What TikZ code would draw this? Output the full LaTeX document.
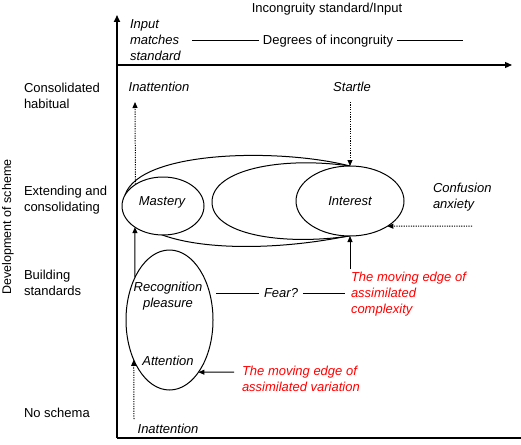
\documentclass[tikz,border=0pt]{standalone}
\usepackage{fontspec}
\setmainfont{Liberation Sans}
\usetikzlibrary{shapes.geometric,arrows.meta}
\begin{document}
\begin{tikzpicture}[x=1pt,y=-1pt,
  every node/.style={font=\fontsize{13}{16}\selectfont, inner sep=0pt, outer sep=0pt},
  lbl/.style={anchor=west, align=left},
  it/.style={font=\fontsize{13}{16}\selectfont\itshape},
  redtxt/.style={text=red},
  oval/.style={ellipse, draw, line width=1pt, fill=white},
  conn/.style={line width=1pt},
  tip/.style={-{Triangle[length=6pt,width=5pt]}},
  dots/.style={dash pattern=on 1.2pt off 1.2pt},
  curve/.style={line width=1pt}
]
\useasboundingbox (0,0) rectangle (521,444);

% axes
\coordinate (o) at (117,438);
\coordinate (br) at (521,438);
\coordinate (ytop) at (117,15);
\coordinate (xa) at (117,65);
\coordinate (xb) at (512,65);
\draw[line width=1.8pt] (o) -- (br);
\draw[line width=1.6pt, -{Triangle[length=7pt,width=6pt]}] (o) -- (ytop);
\draw[line width=1.1pt, -{Triangle[length=7pt,width=6pt]}] (xa) -- (xb);

% axis texts
\node (title) at (327,9) {Incongruity standard/Input};
\node[lbl,it] (ims) at (130,40) {Input\\matches\\standard};
\node[inner sep=4pt] (deg) at (328,41) {Degrees of incongruity};
\coordinate (dl) at (192,41);
\coordinate (dr) at (463,41);
\draw[conn] (dl) -- (deg);
\draw[conn] (deg) -- (dr);

\node[lbl] (l1) at (24,95.5) {Consolidated\\habitual};
\node[lbl] (l2) at (24,200.5) {Extending and\\consolidating};
\node[lbl] (l3) at (24,282.5) {Building\\standards};
\node[lbl] (l4) at (24,413) {No schema};
\node[rotate=90, font=\fontsize{12.5}{15}\selectfont] (dev) at (8,227) {Development of scheme};

% enclosing curves
\draw[curve] (350,166) .. controls (280,148) and (140,150) .. (125,195)
             .. controls (125,250) and (250,256) .. (348,236);
\draw[curve] (350,166) .. controls (280,156) and (212,170) .. (212,202)
             .. controls (212,234) and (280,246) .. (350,236);

% ellipses
\node[oval, minimum width=82pt, minimum height=58pt] (mastery) at (163,206) {};
\node[it] (mtext) at (162,202) {Mastery};
\node[oval, it, minimum width=108pt, minimum height=70pt] (interest) at (350,201) {Interest};
\node[ellipse, draw, line width=1pt, minimum width=87pt, minimum height=140pt] (rec) at (169.5,320) {};
\node[it, align=center] (rectext) at (168,296) {Recognition\\pleasure};
\node[it] (attn) at (168,361) {Attention};

% other labels
\node[it] (inat1) at (159,87) {Inattention};
\node[it] (startle) at (352,87) {Startle};
\node[it,lbl] (conf) at (433,197) {Confusion\\anxiety};
\node[it, inner sep=5pt] (fear) at (281,293) {Fear?};
\node[it] (inat2) at (168,429) {Inattention};
\node[it,lbl,redtxt] (rc) at (351,294) {The moving edge of\\assimilated\\complexity};
\node[it,lbl,redtxt] (rv) at (242,378.5) {The moving edge of\\assimilated variation};

% connectors
\coordinate (d1) at (134,419);
\draw[conn,dots,tip] (d1) -- (rec.228.8);
\draw[conn,tip] (rec.129) -- (mastery.217.1);
\coordinate (t1) at (135,102);
\draw[conn,dots,tip] (mastery.142.9) -- (t1);
\coordinate (s1) at (350,102);
\draw[conn,dots,tip] (s1) -- (interest.north);
\coordinate (c1) at (472,226);
\draw[conn,dots,tip] (c1) -- (interest.326.5);
\coordinate (c2) at (350,269);
\draw[conn,tip] (c2) -- (interest.south);
\coordinate (v1) at (234,372);
\draw[conn,tip] (v1) -- (rec.299.2);
\coordinate (f1) at (216,293);
\coordinate (f2) at (345,293);
\draw[conn] (f1) -- (fear);
\draw[conn] (fear) -- (f2);
\end{tikzpicture}
\end{document}
